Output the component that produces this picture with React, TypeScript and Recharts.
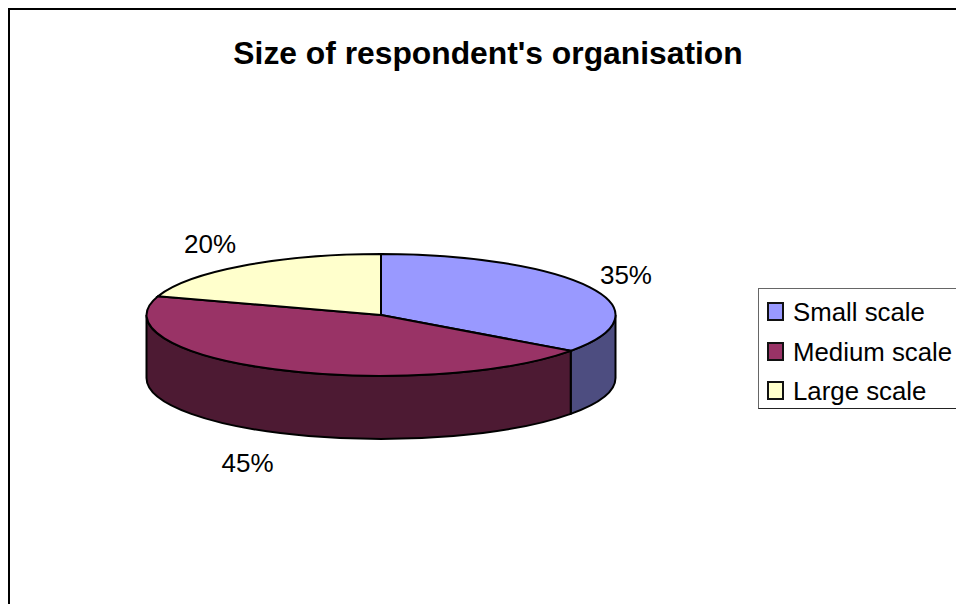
import React from 'react';
import { PieChart, Pie, Legend } from 'recharts';

const categories = ['Small scale', 'Medium scale', 'Large scale'];
const shares = [35, 45, 20];
const topColors = ['#9999FF', '#993366', '#FFFFCC'];
const wallColors = ['#4D4D80', '#4D1A33', '#808066'];

const chartData = categories.map((name, i) => ({ name, value: shares[i], fill: topColors[i], wall: wallColors[i] }));

const FONT = '"Liberation Sans", Arial, sans-serif';
const CHART_W = 946;
const CHART_H = 594;
const RX = 234.5;
const SQUASH = 0.26; // flattens the disc into an ellipse
const DEPTH = 63;

const rad = (deg: number) => (deg * Math.PI) / 180;

// Recharts hands over circular sector angles; they get projected onto the ellipse here
const DiscSlice = (props: any) => {
    const { cx, cy, outerRadius, startAngle, endAngle, fill, payload } = props;
    const rx = outerRadius;
    const ry = outerRadius * SQUASH;
    const px = (a: number) => cx + rx * Math.cos(rad(a));
    const py = (a: number) => cy - ry * Math.sin(rad(a));
    const large = Math.abs(startAngle - endAngle) > 180 ? 1 : 0;

    const top = `M${cx},${cy} L${px(startAngle)},${py(startAngle)} A${rx},${ry} 0 ${large} 1 ${px(endAngle)},${py(endAngle)} Z`;

    // only the front half of the rim is visible
    const from = Math.min(startAngle, 0);
    const to = Math.max(endAngle, -180);
    let wall = null;
    if (from > to) {
        wall = `M${px(from)},${py(from)} A${rx},${ry} 0 0 1 ${px(to)},${py(to)} L${px(to)},${py(to) + DEPTH} A${rx},${ry} 0 0 0 ${px(from)},${py(from) + DEPTH} Z`;
    }

    return (
        <g>
            {wall && <path d={wall} fill={payload?.wall ?? props.wall} stroke="#000" strokeWidth={2} />}
            <path d={top} fill={fill} stroke="#000" strokeWidth={2} />
        </g>
    );
};

const renderPercent = (props: any) => {
    const { cx, cy, outerRadius, midAngle, value } = props;
    const cos = Math.cos(rad(midAngle));
    const sin = Math.sin(rad(midAngle));
    const front = sin < 0;
    const x = cx + outerRadius * cos + (cos > 0 ? 10 : front ? -1 : -7);
    const y = cy - outerRadius * SQUASH * sin + (front ? DEPTH + 7 : 0) - 27 * sin;
    return (
        <text x={x} y={y} dy="0.35em" textAnchor={cos > 0 ? 'start' : 'end'} fontFamily={FONT} fontSize={26} fill="#000">
            {`${value}%`}
        </text>
    );
};

const LegendBox = ({ payload }: any) => (
    <div style={{
        width: 220, height: 121, boxSizing: 'border-box', background: '#fff',
        borderTop: '1.5px solid #666', borderLeft: '1.5px solid #666', borderBottom: '1.5px solid #222',
        fontFamily: FONT, fontSize: 25.8, color: '#000', paddingTop: 4,
    }}>
        {(payload ?? []).map((entry: any) => (
            <div key={entry.value} style={{ display: 'flex', alignItems: 'center', height: 39.5, whiteSpace: 'nowrap' }}>
                <span style={{ width: 17, height: 19, marginLeft: 8, marginRight: 9, marginTop: -2, background: entry.color, border: '2px solid #111', boxSizing: 'border-box' }} />
                <span>{entry.value}</span>
            </div>
        ))}
    </div>
);

export default function App() {
    return (
        <div style={{ position: 'absolute', left: 8, top: 8, width: 948, height: 596, boxSizing: 'border-box', borderTop: '2px solid #000', borderLeft: '2px solid #000', overflow: 'hidden' }}>
            <PieChart width={CHART_W} height={CHART_H} margin={{ top: 0, right: 0, bottom: 0, left: 0 }}>
                <text x={478} y={43} dy="0.35em" textAnchor="middle" fontFamily={FONT} fontSize={31.8} fontWeight="bold" fill="#000">
                    Size of respondent's organisation
                </text>
                <Pie
                    data={chartData}
                    dataKey="value"
                    nameKey="name"
                    cx={371}
                    cy={305}
                    outerRadius={RX}
                    startAngle={90}
                    endAngle={-270}
                    stroke="none"
                    shape={DiscSlice}
                    label={renderPercent}
                    labelLine={false}
                    isAnimationActive={false}
                />
                <Legend content={<LegendBox />} layout="vertical" itemSorter={null} wrapperStyle={{ left: 748, top: 278, width: 220 }} />
            </PieChart>
        </div>
    );
}
